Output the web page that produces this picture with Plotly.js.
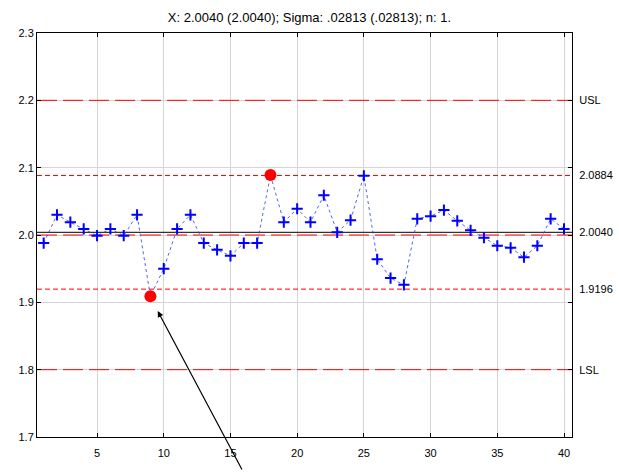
<!DOCTYPE html>
<html>
<head>
<meta charset="utf-8">
<script src="https://cdn.plot.ly/plotly-3.0.1.min.js"></script>
<style>html,body{margin:0;padding:0;background:#fff;}#chart{width:619px;height:473px;}</style>
</head>
<body>
<div id="chart"></div>
<script>
// Sample numbers
const samples = [1,2,3,4,5,6,7,8,9,10,11,12,13,14,15,16,17,18,19,20,21,22,23,24,25,26,27,28,29,30,31,32,33,34,35,36,37,38,39,40];
// Measured values
const values = [1.988,2.030,2.019,2.009,1.999,2.009,1.999,2.030,1.909,1.950,
                2.009,2.030,1.988,1.978,1.969,1.988,1.988,2.089,2.019,2.039,
                2.019,2.059,2.004,2.022,2.088,1.964,1.936,1.926,2.024,2.028,
                2.037,2.021,2.007,1.996,1.984,1.981,1.967,1.984,2.024,2.009];
// Limits
const USL = 2.2, LSL = 1.8, NOMINAL = 2.0;
const UCL = 2.0884, CENTER = 2.0040, LCL = 1.9196;
const rightTickVals = [USL, UCL, CENTER, LCL, LSL];
const rightTickText = ['USL', '2.0884', '2.0040', '1.9196', 'LSL'];
const titleText = 'X: 2.0040 (2.0040); Sigma: .02813 (.02813); n: 1.';
const xRange = [0.5, 40.6];

const outX = [], outY = [], inX = [], inY = [];
samples.forEach((s, i) => {
  if (values[i] > UCL || values[i] < LCL) { outX.push(s); outY.push(values[i]); }
  else { inX.push(s); inY.push(values[i]); }
});

const font = {family: 'Liberation Sans, Arial, sans-serif', size: 11, color: '#000'};

function limitTrace(y, color, dash, width) {
  return {x: xRange, y: [y, y], type: 'scatter', mode: 'lines', cliponaxis: true,
          line: {color: color, dash: dash, width: width}, hoverinfo: 'skip', showlegend: false};
}

const traces = [
  limitTrace(USL, '#ff0000', '20px,6px', 1),
  limitTrace(LSL, '#ff0000', '20px,6px', 1),
  limitTrace(NOMINAL, '#ff0000', '20px,6px', 1.2),
  limitTrace(UCL, '#ff0000', '5px,3px', 1),
  limitTrace(LCL, '#ff0000', '5px,3px', 1),
  limitTrace(CENTER, '#000000', 'solid', 1),
  {x: samples, y: values, type: 'scatter', mode: 'lines',
   line: {color: 'rgba(40,60,255,0.8)', width: 1, dash: 'dot'}, hoverinfo: 'skip', showlegend: false},
  {x: inX, y: inY, type: 'scatter', mode: 'markers',
   marker: {symbol: 'cross-thin-open', size: 8, color: '#0000ff', line: {color: '#0000ff', width: 2}}, showlegend: false},
  {x: outX, y: outY, type: 'scatter', mode: 'markers',
   marker: {symbol: 'circle', size: 12, color: '#ff0000', line: {width: 0}}, showlegend: false},
  {x: [samples[0]], y: [USL], yaxis: 'y2', type: 'scatter', mode: 'markers',
   marker: {opacity: 0}, hoverinfo: 'skip', showlegend: false}
];

const layout = {
  width: 619, height: 473,
  margin: {l: 37, r: 47, t: 33, b: 36},
  paper_bgcolor: '#fff', plot_bgcolor: '#fff',
  font: font,
  title: {text: titleText, font: {family: font.family, size: 13, color: '#000'},
          x: 0.5, xanchor: 'center', y: 0.964, yanchor: 'middle'},
  xaxis: {range: xRange, tickvals: [5,10,15,20,25,30,35,40],
          showgrid: true, gridcolor: '#d4d4d4', gridwidth: 1, zeroline: false,
          showline: true, linecolor: '#000', linewidth: 1, mirror: 'ticks',
          ticks: 'inside', ticklen: 4, tickcolor: '#000', tickfont: font, ticklabelstandoff: 6},
  yaxis: {range: [1.7, 2.3], tickvals: [1.7,1.8,1.9,2.0,2.1,2.2,2.3],
          ticktext: ['1.7','1.8','1.9','2.0','2.1','2.2','2.3'],
          showgrid: true, gridcolor: '#d4d4d4', gridwidth: 1, zeroline: false,
          showline: true, linecolor: '#000', linewidth: 1, mirror: 'ticks',
          ticks: 'inside', ticklen: 4, tickcolor: '#000', tickfont: font},
  yaxis2: {range: [1.7, 2.3], overlaying: 'y', side: 'right', tickvals: rightTickVals,
           ticktext: rightTickText, showgrid: false, zeroline: false, showline: false,
           ticks: 'outside', ticklen: 4, tickcolor: 'rgba(0,0,0,0)', tickfont: font},
  annotations: [
    {x: 9.55, y: 1.887, xref: 'x', yref: 'y', text: '', showarrow: true,
     ax: 85, ay: 160, arrowhead: 2, arrowsize: 1, arrowwidth: 1.2, arrowcolor: '#000', standoff: 0}
  ],
  showlegend: false
};

Plotly.newPlot('chart', traces, layout, {displayModeBar: false, staticPlot: true});
</script>
</body>
</html>
